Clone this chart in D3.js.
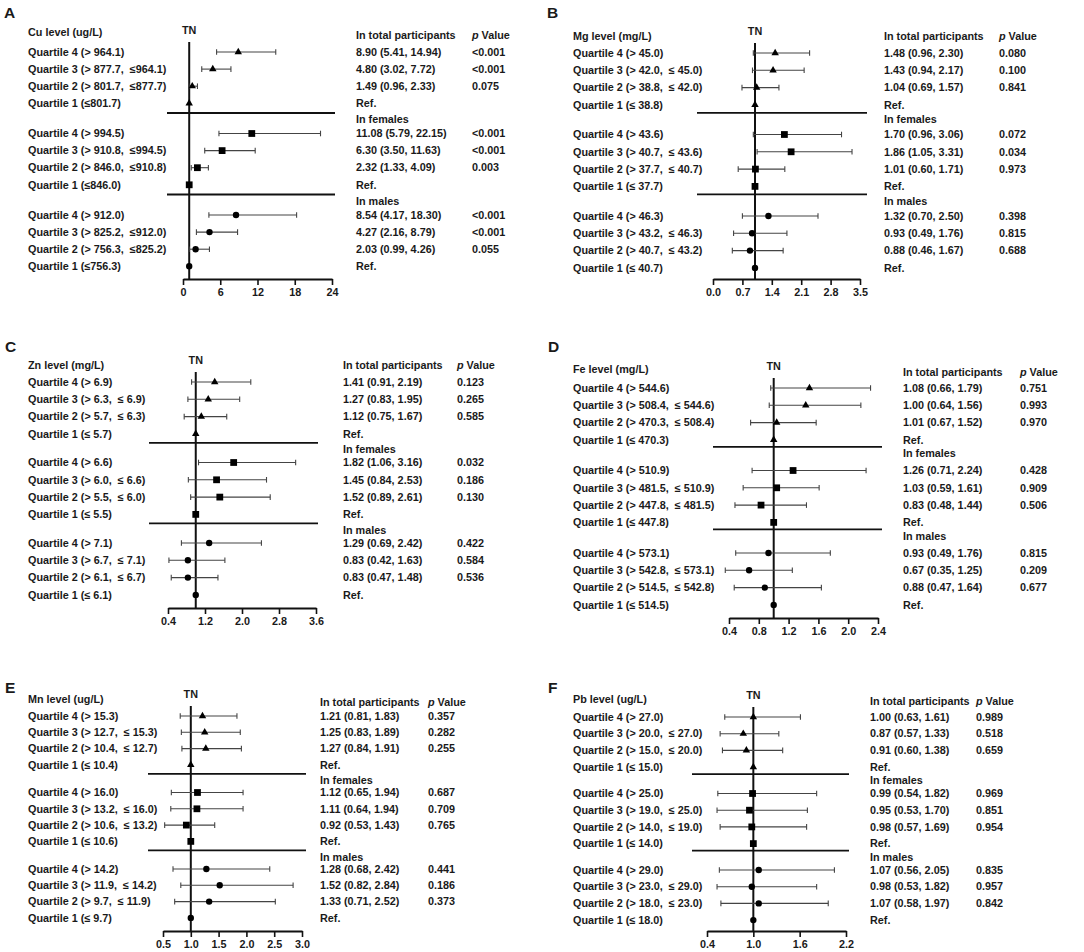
<!DOCTYPE html>
<html><head><meta charset="utf-8">
<script src="https://cdn.jsdelivr.net/npm/d3@7"></script>
<style>
body{margin:0;background:#fff;}
svg text{font-family:"Liberation Sans",Arial,Helvetica,sans-serif;font-weight:bold;fill:#1a1a1a;white-space:pre;}
</style></head><body>
<svg id="chart" width="1084" height="952"></svg>
<script>
// ---------------- DATA ----------------
const panelLetters = ["A","B","C","D","E","F"];
const panelTitles = ["Cu level (ug/L)","Mg level (mg/L)","Zn level (mg/L)","Fe level (mg/L)","Mn level (ug/L)","Pb level (ug/L)"];
const groupNames = ["In total participants","In females","In males"];
const refLabel = "Ref.";
const refValue = 1;
const refName = "TN";

// Cu
const cuLabels = [
 ["Quartile 4 (> 964.1)","Quartile 3 (> 877.7,  ≤964.1)","Quartile 2 (> 801.7,  ≤877.7)","Quartile 1 (≤801.7)"],
 ["Quartile 4 (> 994.5)","Quartile 3 (> 910.8,  ≤994.5)","Quartile 2 (> 846.0,  ≤910.8)","Quartile 1 (≤846.0)"],
 ["Quartile 4 (> 912.0)","Quartile 3 (> 825.2,  ≤912.0)","Quartile 2 (> 756.3,  ≤825.2)","Quartile 1 (≤756.3)"]];
const cuEst  = [[8.90,4.80,1.49],[11.08,6.30,2.32],[8.54,4.27,2.03]];
const cuLow  = [[5.41,3.02,0.96],[5.79,3.50,1.33],[4.17,2.16,0.99]];
const cuHigh = [[14.94,7.72,2.33],[22.15,11.63,4.09],[18.30,8.79,4.26]];
const cuText = [["8.90 (5.41, 14.94)","4.80 (3.02, 7.72)","1.49 (0.96, 2.33)"],
 ["11.08 (5.79, 22.15)","6.30 (3.50, 11.63)","2.32 (1.33, 4.09)"],
 ["8.54 (4.17, 18.30)","4.27 (2.16, 8.79)","2.03 (0.99, 4.26)"]];
const cuP = [["<0.001","<0.001","0.075"],["<0.001","<0.001","0.003"],["<0.001","<0.001","0.055"]];
const cuTicks = [0,6,12,18,24];

// Mg
const mgLabels = [
 ["Quartile 4 (> 45.0)","Quartile 3 (> 42.0,  ≤ 45.0)","Quartile 2 (> 38.8,  ≤ 42.0)","Quartile 1 (≤ 38.8)"],
 ["Quartile 4 (> 43.6)","Quartile 3 (> 40.7,  ≤ 43.6)","Quartile 2 (> 37.7,  ≤ 40.7)","Quartile 1 (≤ 37.7)"],
 ["Quartile 4 (> 46.3)","Quartile 3 (> 43.2,  ≤ 46.3)","Quartile 2 (> 40.7,  ≤ 43.2)","Quartile 1 (≤ 40.7)"]];
const mgEst  = [[1.48,1.43,1.04],[1.70,1.86,1.01],[1.32,0.93,0.88]];
const mgLow  = [[0.96,0.94,0.69],[0.96,1.05,0.60],[0.70,0.49,0.46]];
const mgHigh = [[2.30,2.17,1.57],[3.06,3.31,1.71],[2.50,1.76,1.67]];
const mgText = [["1.48 (0.96, 2.30)","1.43 (0.94, 2.17)","1.04 (0.69, 1.57)"],
 ["1.70 (0.96, 3.06)","1.86 (1.05, 3.31)","1.01 (0.60, 1.71)"],
 ["1.32 (0.70, 2.50)","0.93 (0.49, 1.76)","0.88 (0.46, 1.67)"]];
const mgP = [["0.080","0.100","0.841"],["0.072","0.034","0.973"],["0.398","0.815","0.688"]];
const mgTicks = [0.0,0.7,1.4,2.1,2.8,3.5];

// Zn
const znLabels = [
 ["Quartile 4 (> 6.9)","Quartile 3 (> 6.3,  ≤ 6.9)","Quartile 2 (> 5.7,  ≤ 6.3)","Quartile 1 (≤ 5.7)"],
 ["Quartile 4 (> 6.6)","Quartile 3 (> 6.0,  ≤ 6.6)","Quartile 2 (> 5.5,  ≤ 6.0)","Quartile 1 (≤ 5.5)"],
 ["Quartile 4 (> 7.1)","Quartile 3 (> 6.7,  ≤ 7.1)","Quartile 2 (> 6.1,  ≤ 6.7)","Quartile 1 (≤ 6.1)"]];
const znEst  = [[1.41,1.27,1.12],[1.82,1.45,1.52],[1.29,0.83,0.83]];
const znLow  = [[0.91,0.83,0.75],[1.06,0.84,0.89],[0.69,0.42,0.47]];
const znHigh = [[2.19,1.95,1.67],[3.16,2.53,2.61],[2.42,1.63,1.48]];
const znText = [["1.41 (0.91, 2.19)","1.27 (0.83, 1.95)","1.12 (0.75, 1.67)"],
 ["1.82 (1.06, 3.16)","1.45 (0.84, 2.53)","1.52 (0.89, 2.61)"],
 ["1.29 (0.69, 2.42)","0.83 (0.42, 1.63)","0.83 (0.47, 1.48)"]];
const znP = [["0.123","0.265","0.585"],["0.032","0.186","0.130"],["0.422","0.584","0.536"]];
const znTicks = [0.4,1.2,2.0,2.8,3.6];

// Fe (plotted positions)
const feLabels = [
 ["Quartile 4 (> 544.6)","Quartile 3 (> 508.4,  ≤ 544.6)","Quartile 2 (> 470.3,  ≤ 508.4)","Quartile 1 (≤ 470.3)"],
 ["Quartile 4 (> 510.9)","Quartile 3 (> 481.5,  ≤ 510.9)","Quartile 2 (> 447.8,  ≤ 481.5)","Quartile 1 (≤ 447.8)"],
 ["Quartile 4 (> 573.1)","Quartile 3 (> 542.8,  ≤ 573.1)","Quartile 2 (> 514.5,  ≤ 542.8)","Quartile 1 (≤ 514.5)"]];
const feEst  = [[1.48,1.43,1.04],[1.26,1.04,0.83],[0.93,0.67,0.88]];
const feLow  = [[0.96,0.94,0.69],[0.71,0.59,0.48],[0.49,0.35,0.47]];
const feHigh = [[2.30,2.17,1.57],[2.24,1.61,1.44],[1.76,1.25,1.64]];
const feText = [["1.08 (0.66, 1.79)","1.00 (0.64, 1.56)","1.01 (0.67, 1.52)"],
 ["1.26 (0.71, 2.24)","1.03 (0.59, 1.61)","0.83 (0.48, 1.44)"],
 ["0.93 (0.49, 1.76)","0.67 (0.35, 1.25)","0.88 (0.47, 1.64)"]];
const feP = [["0.751","0.993","0.970"],["0.428","0.909","0.506"],["0.815","0.209","0.677"]];
const feTicks = [0.4,0.8,1.2,1.6,2.0,2.4];

// Mn
const mnLabels = [
 ["Quartile 4 (> 15.3)","Quartile 3 (> 12.7,  ≤ 15.3)","Quartile 2 (> 10.4,  ≤ 12.7)","Quartile 1 (≤ 10.4)"],
 ["Quartile 4 (> 16.0)","Quartile 3 (> 13.2,  ≤ 16.0)","Quartile 2 (> 10.6,  ≤ 13.2)","Quartile 1 (≤ 10.6)"],
 ["Quartile 4 (> 14.2)","Quartile 3 (> 11.9,  ≤ 14.2)","Quartile 2 (> 9.7,  ≤ 11.9)","Quartile 1 (≤ 9.7)"]];
const mnEst  = [[1.21,1.25,1.27],[1.12,1.11,0.92],[1.28,1.52,1.33]];
const mnLow  = [[0.81,0.83,0.84],[0.65,0.64,0.53],[0.68,0.82,0.71]];
const mnHigh = [[1.83,1.89,1.91],[1.94,1.94,1.43],[2.42,2.84,2.52]];
const mnText = [["1.21 (0.81, 1.83)","1.25 (0.83, 1.89)","1.27 (0.84, 1.91)"],
 ["1.12 (0.65, 1.94)","1.11 (0.64, 1.94)","0.92 (0.53, 1.43)"],
 ["1.28 (0.68, 2.42)","1.52 (0.82, 2.84)","1.33 (0.71, 2.52)"]];
const mnP = [["0.357","0.282","0.255"],["0.687","0.709","0.765"],["0.441","0.186","0.373"]];
const mnTicks = [0.5,1.0,1.5,2.0,2.5,3.0];

// Pb
const pbLabels = [
 ["Quartile 4 (> 27.0)","Quartile 3 (> 20.0,  ≤ 27.0)","Quartile 2 (> 15.0,  ≤ 20.0)","Quartile 1 (≤ 15.0)"],
 ["Quartile 4 (> 25.0)","Quartile 3 (> 19.0,  ≤ 25.0)","Quartile 2 (> 14.0,  ≤ 19.0)","Quartile 1 (≤ 14.0)"],
 ["Quartile 4 (> 29.0)","Quartile 3 (> 23.0,  ≤ 29.0)","Quartile 2 (> 18.0,  ≤ 23.0)","Quartile 1 (≤ 18.0)"]];
const pbEst  = [[1.00,0.87,0.91],[0.99,0.95,0.98],[1.07,0.98,1.07]];
const pbLow  = [[0.63,0.57,0.60],[0.54,0.53,0.57],[0.56,0.53,0.58]];
const pbHigh = [[1.61,1.33,1.38],[1.82,1.70,1.69],[2.05,1.82,1.97]];
const pbText = [["1.00 (0.63, 1.61)","0.87 (0.57, 1.33)","0.91 (0.60, 1.38)"],
 ["0.99 (0.54, 1.82)","0.95 (0.53, 1.70)","0.98 (0.57, 1.69)"],
 ["1.07 (0.56, 2.05)","0.98 (0.53, 1.82)","1.07 (0.58, 1.97)"]];
const pbP = [["0.989","0.518","0.659"],["0.969","0.851","0.954"],["0.835","0.957","0.842"]];
const pbTicks = [0.4,1.0,1.6,2.2];

const panels = [
 {labels:cuLabels, est:cuEst, low:cuLow, high:cuHigh, text:cuText, p:cuP, ticks:cuTicks, fmt:"d"},
 {labels:mgLabels, est:mgEst, low:mgLow, high:mgHigh, text:mgText, p:mgP, ticks:mgTicks, fmt:".1f"},
 {labels:znLabels, est:znEst, low:znLow, high:znHigh, text:znText, p:znP, ticks:znTicks, fmt:".1f"},
 {labels:feLabels, est:feEst, low:feLow, high:feHigh, text:feText, p:feP, ticks:feTicks, fmt:".1f"},
 {labels:mnLabels, est:mnEst, low:mnLow, high:mnHigh, text:mnText, p:mnP, ticks:mnTicks, fmt:".1f"},
 {labels:pbLabels, est:pbEst, low:pbLow, high:pbHigh, text:pbText, p:pbP, ticks:pbTicks, fmt:".1f"}
];

// ---------------- LAYOUT ----------------
const layouts = [
 {lx:4,   ly:18,  tx:28,  ty:32,  hy:35,  top:52,  step:17.1, gap:81.5, sepOff:9.7, ax:[183,332], axisY:279, sepX:[167,335], textX:356, pX:472},
 {lx:547, ly:18,  tx:573, ty:36,  hy:36,  top:53,  step:17.3, gap:81.5, sepOff:8,   ax:[713,860], axisY:279, sepX:[697,867], textX:884, pX:999},
 {lx:5,   ly:352, tx:28,  ty:365, hy:365, top:382, step:17.3, gap:80.5, sepOff:9,   ax:[168,316], axisY:608, sepX:[149,318], textX:343, pX:457},
 {lx:548, ly:352, tx:573, ty:369, hy:372, top:388, step:17.3, gap:82.5, sepOff:7,   ax:[729,878], axisY:618, sepX:[713,882], textX:903, pX:1020},
 {lx:5,   ly:693, tx:28,  ty:699, hy:702, top:716, step:16.3, gap:76.5, sepOff:9,   ax:[163,302], axisY:931, sepX:[148,306], textX:320, pX:428},
 {lx:548, ly:693, tx:573, ty:699, hy:701, top:717, step:16.7, gap:76.5, sepOff:7,   ax:[707,846], axisY:931, sepX:[692,849], textX:870, pX:976}
];
const FS = "10.8px";
const symbols = [d3.symbolTriangle, d3.symbolSquare, d3.symbolCircle];
const symSizes = [24, 46, 32];

const svg = d3.select("#chart");

panels.forEach((P, i) => {
  const L = layouts[i];
  const g = svg.append("g");
  const x = d3.scaleLinear().domain(d3.extent(P.ticks)).range(L.ax);
  const rowY = (k, j) => L.top + k * L.gap + j * L.step;

  g.append("text").attr("x", L.lx).attr("y", L.ly).text(panelLetters[i]).style("font-size", "15.5px");
  g.append("text").attr("x", L.tx).attr("y", L.ty).attr("dy", "0.35em").text(panelTitles[i]).style("font-size", FS);
  g.append("text").attr("x", x(refValue)).attr("y", L.top - 22).attr("dy", "0.35em")
    .attr("text-anchor", "middle").text(refName).style("font-size", FS);

  // separators and group headers
  [0, 1].forEach(k => {
    const y = rowY(k, 3) + L.sepOff;
    g.append("line").attr("x1", L.sepX[0]).attr("x2", L.sepX[1]).attr("y1", y).attr("y2", y)
      .attr("stroke", "#111").attr("stroke-width", 1.8);
    g.append("text").attr("x", L.textX).attr("y", y + 6.5).attr("dy", "0.35em")
      .text(groupNames[k + 1]).style("font-size", FS);
  });
  g.append("text").attr("x", L.textX).attr("y", L.hy).attr("dy", "0.35em").text(groupNames[0]).style("font-size", FS);
  const pv = g.append("text").attr("x", L.pX).attr("y", L.hy).attr("dy", "0.35em").style("font-size", FS);
  pv.append("tspan").attr("font-style", "italic").text("p");
  pv.append("tspan").text(" Value");

  // axis
  const axis = d3.axisBottom(x).tickValues(P.ticks).tickFormat(d3.format(P.fmt)).tickSize(6).tickSizeOuter(0).tickPadding(3);
  const ag = g.append("g").attr("transform", `translate(0,${L.axisY})`).call(axis);
  ag.select(".domain").attr("stroke", "#111").attr("stroke-width", 1.8);
  ag.selectAll(".tick line").attr("stroke", "#111").attr("stroke-width", 1.6);
  ag.selectAll(".tick text").attr("fill", "#1a1a1a").style("font-size", FS)
    .style("font-family", "'Liberation Sans',Arial,sans-serif").style("font-weight", "bold");

  // reference line
  g.append("line").attr("x1", x(refValue)).attr("x2", x(refValue)).attr("y1", L.top - 10).attr("y2", L.axisY)
    .attr("stroke", "#111").attr("stroke-width", 2);

  // rows
  for (let k = 0; k < 3; k++) {
    for (let j = 0; j < 4; j++) {
      const y = rowY(k, j);
      g.append("text").attr("x", L.tx).attr("y", y).attr("dy", "0.35em").text(P.labels[k][j]).style("font-size", FS);
      if (j < 3) {
        const lo = x(P.low[k][j]), hi = x(P.high[k][j]);
        g.append("line").attr("x1", lo).attr("x2", hi).attr("y1", y).attr("y2", y).attr("stroke", "#444").attr("stroke-width", 1.1);
        [lo, hi].forEach(cx => g.append("line").attr("x1", cx).attr("x2", cx).attr("y1", y - 2.8).attr("y2", y + 2.8)
          .attr("stroke", "#444").attr("stroke-width", 1.1));
        g.append("path").attr("d", d3.symbol().type(symbols[k]).size(symSizes[k])())
          .attr("transform", `translate(${x(P.est[k][j])},${y})`).attr("fill", "#000");
        g.append("text").attr("x", L.textX).attr("y", y).attr("dy", "0.35em").text(P.text[k][j]).style("font-size", FS);
        g.append("text").attr("x", L.pX).attr("y", y).attr("dy", "0.35em").text(P.p[k][j]).style("font-size", FS);
      } else {
        g.append("path").attr("d", d3.symbol().type(symbols[k]).size(symSizes[k])())
          .attr("transform", `translate(${x(refValue)},${y})`).attr("fill", "#000");
        g.append("text").attr("x", L.textX).attr("y", y).attr("dy", "0.35em").text(refLabel).style("font-size", FS);
      }
    }
  }
});
</script>
</body></html>
